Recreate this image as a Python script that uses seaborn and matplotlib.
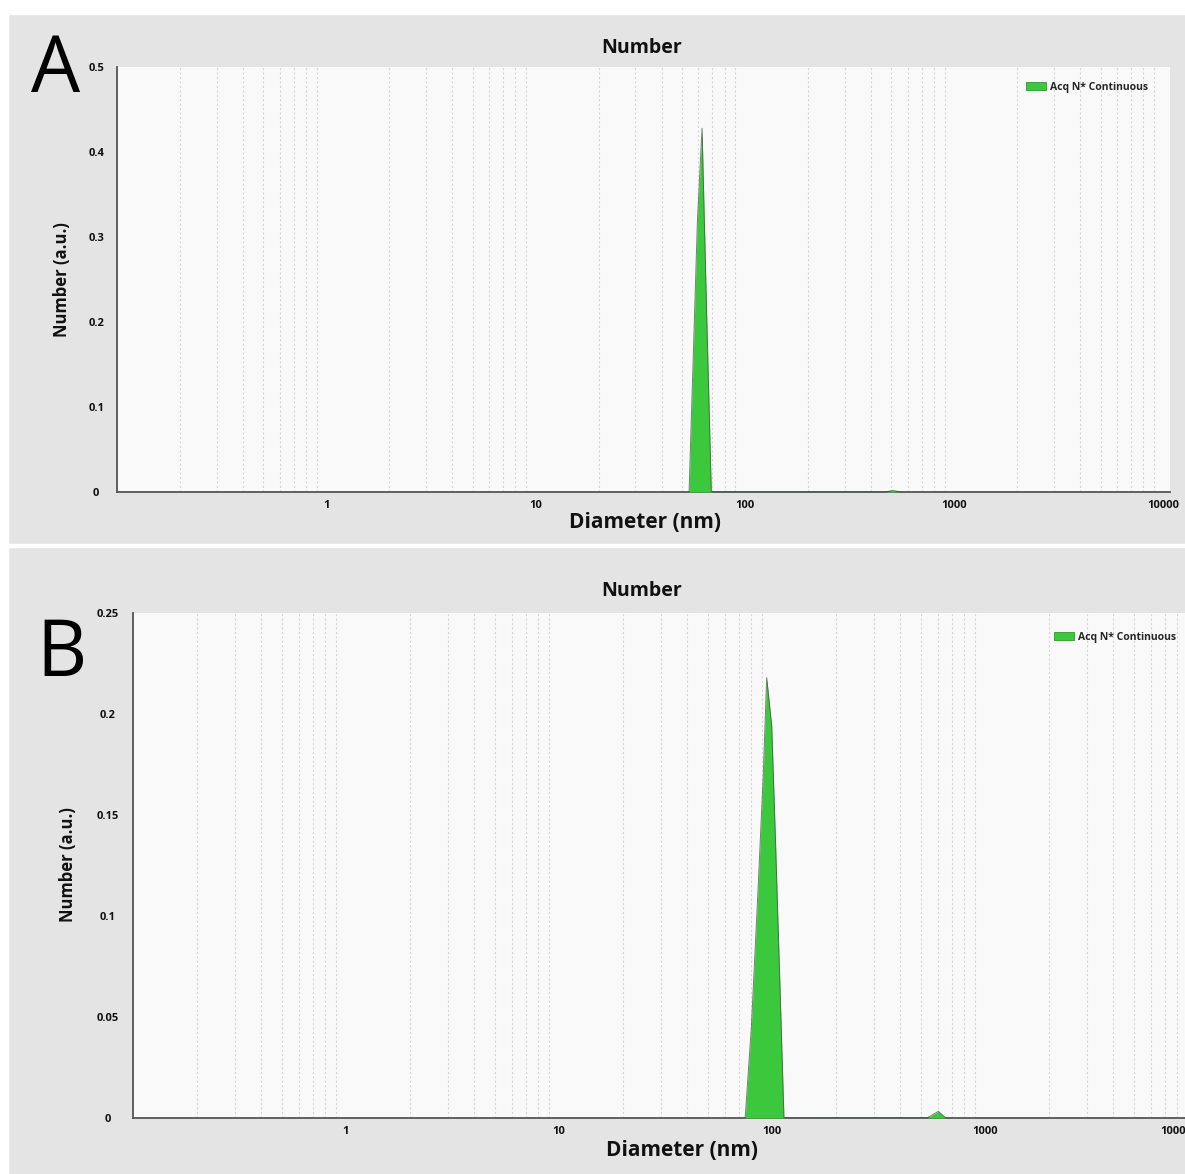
import numpy as np
import pandas as pd
import matplotlib
matplotlib.use("Agg")
import matplotlib.pyplot as plt
import matplotlib.transforms as mtransforms
import seaborn as sns
from matplotlib.patches import Rectangle, Patch
from matplotlib.ticker import FixedLocator, FixedFormatter, NullFormatter, MultipleLocator

# ---------------- data ----------------
a_diameter = [54.1, 59.3, 62.4, 65.8, 69.1, 470, 508, 550]
a_number = [0.0, 0.319, 0.428, 0.20, 0.0, 0.0, 0.002, 0.0]

b_diameter = [74.8, 80.0, 85.8, 91.0, 94.4, 99.7, 104.0, 109.0, 113.8, 534, 604, 655]
b_number = [0.0, 0.045, 0.111, 0.170, 0.218, 0.194, 0.135, 0.065, 0.0, 0.0, 0.0033, 0.0]

x_major = [1, 10, 100, 1000, 10000]
x_major_labels = ["1", "10", "100", "1000", "10000"]
a_yticks = [0, 0.1, 0.2, 0.3, 0.4, 0.5]
a_ylabels = ["0", "0.1", "0.2", "0.3", "0.4", "0.5"]
b_yticks = [0, 0.05, 0.1, 0.15, 0.2, 0.25]
b_ylabels = ["0", "0.05", "0.1", "0.15", "0.2", "0.25"]

title_text = "Number"
xlabel_text = "Diameter (nm)"
ylabel_text = "Number (a.u.)"
legend_text = "Acq N* Continuous"

# ---------------- style ----------------
sns.set_theme(style="white")
plt.rcParams["font.family"] = ["Open Sans", "DejaVu Sans"]

W, H = 1185, 1174
fig = plt.figure(figsize=(W / 100, H / 100), dpi=100, facecolor="#e4e4e4")

# white strips (top, left, separator)
for (x0, y0, w, h) in [(0, 0, W, 14), (0, 0, 8, H), (0, 544, W, 3)]:
    fig.patches.append(Rectangle((x0 / W, 1 - (y0 + h) / H), w / W, h / H,
                                 transform=fig.transFigure, color="white", zorder=0))

GREEN = "#3cc83c"
XMIN, XMAX = 0.1, 10740


def px_axes(left, right, top, bottom):
    return fig.add_axes([left / W, 1 - bottom / H, (right - left) / W, (bottom - top) / H])


def draw_panel(ax, diam, num, yticks, ylabels, ymax, yminor, ytick_pad):
    df = pd.DataFrame({"d": diam, "n": num})
    ax.set_facecolor("#f9f9f9")
    ax.fill_between(df["d"], df["n"], 0, color=GREEN, lw=0, zorder=3)
    sns.lineplot(data=df, x="d", y="n", ax=ax, color="#405040", lw=0.7, alpha=0.7, zorder=4)
    ax.set_xscale("log")
    ax.set_xlim(XMIN, XMAX)
    ax.set_ylim(0, ymax)
    minors = [m * 10.0 ** e for e in range(-1, 5) for m in range(2, 10)]
    minors = [v for v in minors if XMIN < v < XMAX]
    ax.xaxis.set_major_locator(FixedLocator(x_major))
    ax.xaxis.set_major_formatter(FixedFormatter(x_major_labels))
    ax.xaxis.set_minor_locator(FixedLocator(minors))
    ax.xaxis.set_minor_formatter(NullFormatter())
    ax.yaxis.set_major_locator(FixedLocator(yticks))
    ax.yaxis.set_major_formatter(FixedFormatter(ylabels))
    ax.yaxis.set_minor_locator(MultipleLocator(yminor))
    ax.grid(True, which="minor", axis="x", color="#d6d6d6", lw=0.8, ls=(0, (2, 2)), zorder=1)
    ax.grid(False, which="major")
    ax.set_axisbelow(True)
    ax.tick_params(axis="x", which="major", length=0, pad=6, labelsize=8, colors="#111111")
    ax.tick_params(axis="x", which="minor", length=6, width=1.1, direction="in", color="#444444")
    ax.tick_params(axis="y", which="major", length=4, width=1, direction="in", color="#444444",
                   pad=ytick_pad, labelsize=8, labelcolor="#111111")
    ax.tick_params(axis="y", which="minor", length=2.5, width=0.8, direction="in", color="#666666")
    for lab in ax.get_yticklabels():
        lab.set_horizontalalignment("center")
        lab.set_fontweight("bold")
    for lab in ax.get_xticklabels():
        lab.set_fontweight("bold")
    for s in ["top", "right"]:
        ax.spines[s].set_visible(False)
    for s in ["left", "bottom"]:
        ax.spines[s].set_color("#555555")
        ax.spines[s].set_linewidth(1.3)
    ax.set_xlabel("")
    ax.set_ylabel("")


# ---------------- panel A ----------------
axA = px_axes(117, 1170, 67, 492)
draw_panel(axA, a_diameter, a_number, a_yticks, a_ylabels, 0.5, 0.02, 15)

# ---------------- panel B ----------------
axB = px_axes(133, 1204.6, 613, 1118)
draw_panel(axB, b_diameter, b_number, b_yticks, b_ylabels, 0.25, 0.01, 18)
last = axB.get_xticklabels()[-1]
last.set_horizontalalignment("right")
last.set_transform(last.get_transform() +
                   mtransforms.ScaledTranslation(-6 / 100, 0, fig.dpi_scale_trans))

# texts
for (cx, ty, xy, yl_x, yl_y, letter, lx, ly) in [
        (642, 48, 522, 62, 280, "A", 31, 92),
        (642, 591, 1150, 68, 865, "B", 36, 676)]:
    fig.text(cx / W, 1 - ty / H, title_text, ha="center", va="center",
             fontsize=14, fontweight="bold", color="#111111")
    fig.text((645 if letter == "A" else 682) / W, 1 - xy / H, xlabel_text, ha="center",
             va="center", fontsize=15, fontweight="bold", color="#111111")
    fig.text(yl_x / W, 1 - yl_y / H, ylabel_text, ha="center", va="center", rotation=90,
             fontsize=12, fontweight="bold", color="#111111")
    fig.text(lx / W, 1 - ly / H, letter, ha="left", va="baseline", fontsize=56, color="black")

# legends
for ax, (ax_x, ax_y) in [(axA, (1148, 82)), (axB, (1176, 632))]:
    handle = Patch(facecolor=GREEN, edgecolor="#2e9a2e", lw=0.6, label=legend_text)
    ax.legend(handles=[handle], loc="upper right", bbox_to_anchor=(ax_x / W, 1 - ax_y / H),
              bbox_transform=fig.transFigure, frameon=False, handlelength=1.9, handleheight=0.8,
              borderpad=0, borderaxespad=0, handletextpad=0.35,
              prop={"weight": "bold", "size": 7.5, "family": ["Open Sans", "DejaVu Sans"]})

fig.savefig("out.png", dpi=100, facecolor=fig.get_facecolor())
